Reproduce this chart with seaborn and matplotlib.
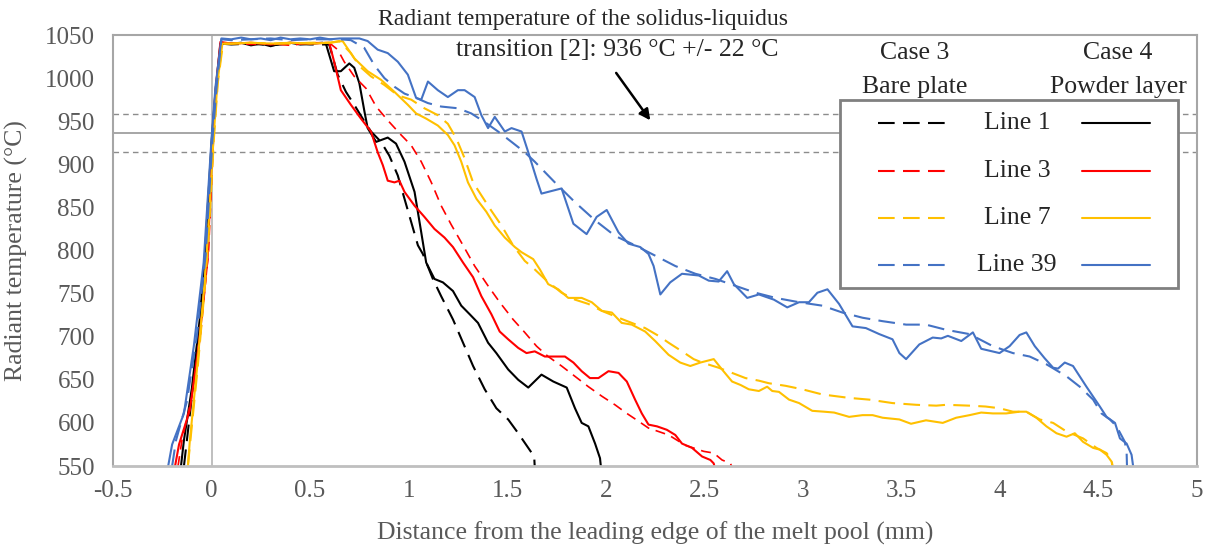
import matplotlib
matplotlib.use('Agg')
import matplotlib.pyplot as plt
from matplotlib.patches import Rectangle
from matplotlib.lines import Line2D
import seaborn as sns
import pandas as pd

# Case 4 (powder layer, solid) and Case 3 (bare plate, dashed) profiles
line1_c4_x = [-0.155, -0.14, -0.10, -0.06, -0.035, 0.0, 0.02, 0.045, 0.1, 0.15, 0.2, 0.25, 0.3, 0.35, 0.4, 0.45,
              0.5, 0.563, 0.58, 0.622, 0.656, 0.699, 0.724, 0.75, 0.776, 0.792, 0.835, 0.894, 0.936, 0.979, 1.03,
              1.064, 1.089, 1.131, 1.174, 1.225, 1.267, 1.31, 1.352, 1.403, 1.445, 1.505, 1.556, 1.607, 1.674,
              1.734, 1.802, 1.844, 1.878, 1.912, 1.946, 1.971, 1.976]
line1_c4_t = [550, 580, 640, 720, 790, 925, 985, 1040, 1040, 1041, 1038, 1040, 1037, 1040, 1041, 1039,
              1040, 1041, 1040, 1008, 1008, 1017, 1012, 994, 961, 942, 926, 931, 924, 903, 868,
              821, 786, 767, 763, 753, 736, 726, 716, 693, 681, 662, 650, 641, 656,
              648, 641, 617, 600, 596, 576, 559, 548]

line1_c3_x = [-0.14, -0.12, -0.085, -0.05, -0.025, 0.005, 0.025, 0.05, 0.1, 0.2, 0.3, 0.4, 0.5, 0.597, 0.64,
              0.682, 0.724, 0.767, 0.809, 0.86, 0.902, 0.945, 0.979, 1.013, 1.047, 1.072, 1.123, 1.165, 1.225,
              1.276, 1.327, 1.386, 1.445, 1.505, 1.556, 1.607, 1.637, 1.64]
line1_c3_t = [550, 590, 660, 740, 810, 930, 990, 1040, 1039, 1040, 1038, 1040, 1039, 1039, 1004,
              984, 969, 953, 938, 926, 910, 887, 860, 833, 806, 796, 767, 747, 720,
              693, 666, 639, 617, 604, 588, 571, 561, 548]

line3_c4_x = [-0.185, -0.165, -0.11, -0.065, -0.02, 0.005, 0.02, 0.045, 0.1, 0.2, 0.3, 0.4, 0.5, 0.597, 0.622,
              0.656, 0.707, 0.758, 0.809, 0.843, 0.869, 0.894, 0.928, 0.953, 0.979, 1.03, 1.08, 1.131, 1.182,
              1.225, 1.276, 1.327, 1.369, 1.42, 1.462, 1.505, 1.556, 1.598, 1.64, 1.691, 1.742, 1.793, 1.836,
              1.878, 1.92, 1.963, 2.014, 2.065, 2.107, 2.149, 2.183, 2.217, 2.26, 2.31, 2.353, 2.387, 2.438,
              2.489, 2.531, 2.548, 2.553]
line3_c4_t = [550, 575, 615, 690, 790, 930, 985, 1042, 1040, 1041, 1039, 1041, 1040, 1041, 1019,
              986, 969, 953, 938, 914, 899, 881, 879, 881, 868, 852, 839, 825, 815,
              804, 786, 769, 747, 726, 706, 697, 687, 681, 683, 677, 677, 677, 670,
              660, 652, 652, 660, 658, 648, 627, 611, 598, 596, 592, 586, 576, 571,
              561, 557, 553, 548]

line3_c3_x = [-0.17, -0.15, -0.1, -0.055, -0.015, 0.01, 0.025, 0.05, 0.1, 0.2, 0.3, 0.4, 0.5, 0.597, 0.64,
              0.673, 0.724, 0.784, 0.835, 0.894, 0.962, 1.013, 1.064, 1.115, 1.165, 1.216, 1.276, 1.335, 1.403,
              1.462, 1.53, 1.589, 1.649, 1.708, 1.776, 1.844, 1.912, 1.98, 2.047, 2.107, 2.166, 2.217, 2.319,
              2.404, 2.497, 2.548, 2.59, 2.633, 2.641]
line3_c3_t = [550, 580, 630, 705, 800, 930, 985, 1040, 1041, 1039, 1040, 1038, 1041, 1041, 1033,
              1019, 1002, 988, 967, 951, 934, 922, 903, 879, 852, 830, 806, 782, 759,
              740, 720, 705, 689, 677, 666, 654, 642, 631, 621, 611, 602, 594, 586,
              574, 567, 565, 557, 553, 548]

line7_c4_x = [-0.12, -0.11, -0.075, -0.04, -0.02, 0.01, 0.03, 0.055, 0.1, 0.2, 0.3, 0.4, 0.5, 0.6, 0.665,
              0.724, 0.792, 0.86, 0.928, 0.996, 1.038, 1.089, 1.148, 1.199, 1.233, 1.267, 1.301, 1.344, 1.394,
              1.437, 1.488, 1.539, 1.573, 1.632, 1.666, 1.708, 1.759, 1.81, 1.878, 1.929, 1.98, 2.031, 2.081,
              2.132, 2.2, 2.251, 2.319, 2.378, 2.429, 2.48, 2.548, 2.59, 2.641, 2.684, 2.726, 2.777, 2.819,
              2.845, 2.879, 2.93, 2.981, 3.048, 3.108, 3.159, 3.235, 3.303, 3.354, 3.405, 3.49, 3.549, 3.625,
              3.71, 3.778, 3.846, 3.905, 3.964, 4.032, 4.1, 4.134, 4.185, 4.236, 4.287, 4.338, 4.38, 4.422,
              4.473, 4.507, 4.541, 4.567, 4.572]
line7_c4_t = [550, 580, 660, 750, 810, 930, 995, 1040, 1040, 1041, 1040, 1041, 1040, 1041, 1043,
              1023, 1008, 998, 984, 969, 959, 953, 945, 934, 922, 903, 879, 860, 845,
              829, 815, 804, 798, 790, 778, 761, 755, 745, 745, 740, 730, 728, 716,
              714, 706, 695, 679, 670, 666, 670, 674, 662, 648, 644, 639, 637, 642,
              637, 636, 627, 623, 614, 613, 612, 607, 609, 609, 606, 604, 599, 603,
              600, 606, 609, 612, 611, 611, 613, 613, 606, 596, 588, 584, 588, 578,
              571, 569, 563, 555, 548]

line7_c3_x = [-0.12, -0.105, -0.07, -0.035, -0.015, 0.012, 0.032, 0.058, 0.1, 0.2, 0.3, 0.4, 0.5, 0.6, 0.648,
              0.707, 0.75, 0.809, 0.877, 0.945, 1.013, 1.08, 1.148, 1.199, 1.242, 1.284, 1.327, 1.369, 1.42,
              1.471, 1.53, 1.589, 1.64, 1.7, 1.776, 1.844, 1.912, 1.98, 2.065, 2.132, 2.2, 2.268, 2.319,
              2.387, 2.446, 2.489, 2.573, 2.641, 2.709, 2.777, 2.828, 2.913, 2.997, 3.099, 3.167, 3.235, 3.337,
              3.455, 3.575, 3.677, 3.727, 3.846, 3.927, 3.998, 4.066, 4.134, 4.202, 4.27, 4.338, 4.422, 4.49,
              4.541, 4.567, 4.572]
line7_c3_t = [550, 585, 665, 755, 815, 930, 995, 1040, 1040, 1041, 1040, 1040, 1041, 1041, 1043,
              1029, 1014, 1002, 992, 980, 975, 965, 957, 947, 930, 907, 879, 864, 846,
              829, 806, 788, 778, 765, 751, 743, 738, 730, 722, 716, 710, 701, 693,
              683, 674, 670, 664, 658, 652, 649, 646, 643, 639, 633, 631, 629, 627,
              623, 621, 620, 621, 620, 619, 617, 613, 613, 604, 600, 590, 582, 571,
              565, 557, 548]

line39_c4_x = [-0.22, -0.2, -0.14, -0.09, -0.04, 0.0, 0.02, 0.05, 0.1, 0.15, 0.2, 0.25, 0.3, 0.35, 0.4, 0.45,
               0.5, 0.55, 0.6, 0.65, 0.7, 0.75, 0.792, 0.843, 0.894, 0.945, 0.996, 1.038, 1.064, 1.098, 1.148,
               1.199, 1.25, 1.284, 1.335, 1.369, 1.403, 1.437, 1.488, 1.522, 1.573, 1.607, 1.649, 1.674, 1.776,
               1.836, 1.903, 1.954, 2.005, 2.065, 2.115, 2.175, 2.217, 2.243, 2.277, 2.327, 2.387, 2.472, 2.523,
               2.573, 2.616, 2.65, 2.718, 2.777, 2.853, 2.921, 2.981, 3.031, 3.074, 3.125, 3.184, 3.252, 3.32,
               3.388, 3.455, 3.49, 3.524, 3.591, 3.659, 3.702, 3.736, 3.804, 3.863, 3.905, 3.998, 4.049, 4.1,
               4.134, 4.177, 4.227, 4.27, 4.295, 4.329, 4.371, 4.439, 4.507, 4.541, 4.584, 4.609, 4.643, 4.668,
               4.677]
line39_c4_t = [550, 575, 611, 689, 786, 930, 990, 1046, 1045, 1047, 1045, 1046, 1044, 1047, 1045, 1046,
               1045, 1047, 1045, 1046, 1046, 1046, 1043, 1033, 1029, 1019, 1004, 977, 975, 996, 986,
               978, 986, 986, 978, 957, 942, 955, 938, 942, 938, 914, 883, 866, 872,
               831, 819, 839, 847, 821, 808, 804, 796, 782, 749, 763, 773, 771, 765,
               764, 776, 761, 745, 749, 743, 734, 740, 740, 751, 755, 738, 712, 710,
               703, 697, 681, 674, 691, 699, 698, 701, 695, 705, 686, 681, 689, 702,
               705, 689, 675, 664, 663, 670, 666, 642, 619, 607, 600, 582, 576, 563,
               548]

line39_c3_x = [-0.2, -0.18, -0.125, -0.075, -0.03, 0.005, 0.025, 0.05, 0.1, 0.2, 0.3, 0.4, 0.5, 0.6, 0.656,
               0.707, 0.775, 0.826, 0.877, 0.928, 0.979, 1.038, 1.098, 1.165, 1.25, 1.318, 1.386, 1.454, 1.522,
               1.589, 1.64, 1.742, 1.844, 1.946, 2.047, 2.149, 2.251, 2.353, 2.455, 2.557, 2.658, 2.76, 2.862,
               2.981, 3.099, 3.201, 3.303, 3.405, 3.524, 3.625, 3.727, 3.846, 3.964, 4.066, 4.151, 4.236, 4.338,
               4.405, 4.473, 4.515, 4.558, 4.592, 4.634, 4.643, 4.645]
line39_c3_t = [550, 580, 625, 700, 795, 930, 988, 1045, 1044, 1045, 1046, 1044, 1045, 1045, 1045,
               1044, 1035, 1015, 1000, 990, 982, 977, 971, 967, 965, 959, 949, 938, 926,
               914, 903, 879, 856, 835, 817, 806, 794, 782, 773, 767, 759, 751, 745,
               740, 736, 728, 722, 718, 714, 714, 708, 703, 689, 681, 677, 668, 654,
               642, 627, 611, 604, 596, 578, 565, 548]

line_names = ['Line 1', 'Line 3', 'Line 7', 'Line 39']
line_colors = ['#000000', '#FF0000', '#FFC000', '#4472C4']
solidus = 936
solidus_tol = 22

curves = [
    ('Line 1', 'Case 3', line1_c3_x, line1_c3_t),
    ('Line 1', 'Case 4', line1_c4_x, line1_c4_t),
    ('Line 3', 'Case 3', line3_c3_x, line3_c3_t),
    ('Line 3', 'Case 4', line3_c4_x, line3_c4_t),
    ('Line 7', 'Case 3', line7_c3_x, line7_c3_t),
    ('Line 7', 'Case 4', line7_c4_x, line7_c4_t),
    ('Line 39', 'Case 3', line39_c3_x, line39_c3_t),
    ('Line 39', 'Case 4', line39_c4_x, line39_c4_t),
]
rows = []
for name, case, xs, ts in curves:
    assert len(xs) == len(ts), (name, case, len(xs), len(ts))
    for i, (x, t) in enumerate(zip(xs, ts)):
        rows.append({'line': name, 'case': case, 'idx': i, 'x': x, 'T': t})
df = pd.DataFrame(rows)

sns.set_style('white')
plt.rcParams['font.family'] = ['Liberation Serif', 'DejaVu Serif']
grey_txt = '#595959'
LW = 1.5

fig = plt.figure(figsize=(12.07, 5.5), dpi=100)
ax = fig.add_axes([113 / 1207, 1 - 466 / 550, (1197 - 113) / 1207, (466 - 35) / 550])

palette = dict(zip(line_names, line_colors))
for name in line_names:
    for case in ['Case 3', 'Case 4']:
        sub = df[(df['line'] == name) & (df['case'] == case)]
        if case == 'Case 3':
            dash = (8, 4) if name != 'Line 3' else (6, 4)
            lw = LW if name != 'Line 3' else 1.2
            sns.lineplot(data=sub, x='x', y='T', color=palette[name], linewidth=lw, estimator=None,
                         sort=False, dashes=False, ax=ax, legend=False).lines[-1].set_dashes(dash)
        else:
            sns.lineplot(data=sub, x='x', y='T', color=palette[name], linewidth=LW, estimator=None,
                         sort=False, ax=ax, legend=False)

ax.axhline(solidus, color='#A6A6A6', lw=1.4, zorder=0)
ax.axhline(solidus + solidus_tol, color='#8C8C8C', lw=1.0, ls=(0, (4, 3)), zorder=0)
ax.axhline(solidus - solidus_tol, color='#8C8C8C', lw=1.0, ls=(0, (4, 3)), zorder=0)
ax.axvline(0, color='#BFBFBF', lw=1.4, zorder=0)

ax.set_xlim(-0.5, 5)
ax.set_ylim(550, 1050)
ax.set_xticks([-0.5, 0, 0.5, 1, 1.5, 2, 2.5, 3, 3.5, 4, 4.5, 5])
ax.set_xticklabels(['-0.5', '0', '0.5', '1', '1.5', '2', '2.5', '3', '3.5', '4', '4.5', '5'])
ax.set_yticks(range(550, 1051, 50))
ax.tick_params(axis='x', direction='in', length=5, width=1.2, color='#BFBFBF', labelsize=18,
               labelcolor=grey_txt, pad=10)
ax.tick_params(axis='y', length=0, labelsize=18, labelcolor=grey_txt, pad=13)
for s in ax.spines.values():
    s.set_color('#A6A6A6')
    s.set_linewidth(1.5)
ax.spines['bottom'].set_color('#BFBFBF')
ax.spines['bottom'].set_linewidth(2)

ax.set_xlabel('Distance from the leading edge of the melt pool (mm)', fontsize=18.5, color=grey_txt, labelpad=14)
ax.set_ylabel('Radiant temperature (°C)', fontsize=18.5, color=grey_txt, labelpad=12)

fig.text(583 / 1207, 1 - 19 / 550, 'Radiant temperature of the solidus-liquidus', fontsize=17,
         ha='center', va='center')
fig.text(617 / 1207, 1 - 50 / 550, 'transition [2]: 936 °C +/- 22 °C', fontsize=18.5,
         ha='center', va='center')
ax.annotate('', xy=(2.226, 951), xytext=(2.053, 1006),
            arrowprops=dict(arrowstyle='-|>', color='black', lw=1.8, mutation_scale=16, shrinkA=0, shrinkB=0))

# legend block (Excel-style, two series columns)
fig.text(915 / 1207, 1 - 53 / 550, 'Case 3', fontsize=18.5, ha='center', va='center')
fig.text(915 / 1207, 1 - 87 / 550, 'Bare plate', fontsize=18.5, ha='center', va='center')
fig.text(1118 / 1207, 1 - 53 / 550, 'Case 4', fontsize=18.5, ha='center', va='center')
fig.text(1118 / 1207, 1 - 87 / 550, 'Powder layer', fontsize=18.5, ha='center', va='center')
fig.patches.append(Rectangle((840 / 1207, 1 - 288 / 550), 338 / 1207, 188 / 550, transform=fig.transFigure,
                             facecolor='white', edgecolor='#808080', lw=2, zorder=5))
for k, (name, col) in enumerate(zip(line_names, line_colors)):
    yy = 1 - (123 + 47.5 * k) / 550
    dl = Line2D([878 / 1207, 948 / 1207], [yy, yy], transform=fig.transFigure, color=col, lw=LW, zorder=6)
    dl.set_dashes((8, 4))
    fig.lines.append(dl)
    fig.lines.append(Line2D([1082 / 1207, 1150 / 1207], [yy, yy], transform=fig.transFigure, color=col,
                            lw=LW, zorder=6))
    fig.text(1017 / 1207, yy, name, fontsize=18.5, ha='center', va='center', zorder=7)

fig.savefig('out.png', dpi=100)
